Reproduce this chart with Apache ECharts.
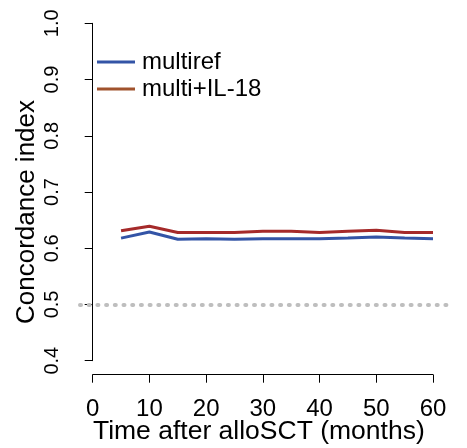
<!DOCTYPE html>
<html>
<head>
<meta charset="utf-8">
<script src="https://cdn.jsdelivr.net/npm/echarts@6/dist/echarts.min.js"></script>
<style>
  html, body { margin: 0; padding: 0; background: #fff; }
  #chart { width: 467px; height: 448px; }
</style>
</head>
<body>
<div id="chart"></div>
<script>
  // months after alloSCT
  var months = [5, 10, 15, 20, 25, 30, 35, 40, 45, 50, 55, 60];
  var multiref = [0.618, 0.629, 0.616, 0.617, 0.616, 0.617, 0.617, 0.617, 0.618, 0.620, 0.618, 0.617];
  var multiIL18 = [0.631, 0.639, 0.628, 0.628, 0.628, 0.630, 0.630, 0.628, 0.630, 0.632, 0.628, 0.628];
  var xTicks = [0, 10, 20, 30, 40, 50, 60];
  var yTicks = [0.4, 0.5, 0.6, 0.7, 0.8, 0.9, 1.0];
  var refLevel = 0.5;

  var font = '"Liberation Sans", Arial, Helvetica, sans-serif';
  var axisLine = { show: true, lineStyle: { color: '#000', width: 1 } };
  var axisTick = { show: true, inside: false, length: 8, lineStyle: { color: '#000', width: 1 } };

  function pairs(xs, ys) {
    return xs.map(function (x, i) { return [x, ys[i]]; });
  }

  var chart = echarts.init(document.getElementById('chart'), null, { renderer: 'canvas' });

  chart.setOption({
    animation: false,
    backgroundColor: '#fff',
    textStyle: { fontFamily: font },
    grid: [
      { left: 92.7, right: 34, top: 23.3, bottom: 87.3, containLabel: false, outerBoundsMode: 'none' },
      { left: 80, right: 20.4, top: 23.3, bottom: 87.3, containLabel: false, outerBoundsMode: 'none' }
    ],
    legend: {
      orient: 'vertical',
      left: 97,
      top: 50,
      padding: 0,
      itemWidth: 38,
      itemHeight: 3,
      itemGap: 3,
      icon: 'rect',
      textStyle: { fontFamily: font, fontSize: 24, color: '#000', padding: [0, 0, 0, 2] },
      data: [
        { name: 'multiref', itemStyle: { color: '#3354a6' } },
        { name: 'multi+IL-18', itemStyle: { color: '#a0522d' } }
      ]
    },
    xAxis: [
      {
        gridIndex: 0,
        type: 'value',
        min: xTicks[0],
        max: xTicks[xTicks.length - 1],
        interval: 10,
        offset: 14,
        splitLine: { show: false },
        axisLine: axisLine,
        axisTick: axisTick,
        axisLabel: { fontFamily: font, fontSize: 24, color: '#000', margin: 23 },
        name: 'Time after alloSCT (months)',
        nameLocation: 'middle',
        nameGap: 43,
        nameMoveOverlap: false,
        nameTextStyle: { fontFamily: font, fontSize: 26.5, color: '#000', padding: [0, 8, 0, 0] }
      },
      { gridIndex: 1, type: 'value', min: 0, max: 1, show: false }
    ],
    yAxis: [
      {
        gridIndex: 0,
        type: 'value',
        min: yTicks[0],
        max: yTicks[yTicks.length - 1],
        interval: 0.1,
        offset: 12.7,
        splitLine: { show: false },
        axisLine: axisLine,
        axisTick: axisTick,
        axisLabel: {
          fontFamily: font, fontSize: 20, color: '#000', margin: 18, rotate: 90,
          align: 'center', verticalAlign: 'bottom',
          formatter: function (v) { return v.toFixed(1); }
        },
        name: 'Concordance index',
        nameLocation: 'middle',
        nameRotate: 90,
        nameGap: 40,
        nameMoveOverlap: false,
        nameTextStyle: { fontFamily: font, fontSize: 26, color: '#000', padding: [0, 40, 0, 0] }
      },
      { gridIndex: 1, type: 'value', min: yTicks[0], max: yTicks[yTicks.length - 1], show: false }
    ],
    series: [
      {
        name: 'reference',
        type: 'line',
        xAxisIndex: 1,
        yAxisIndex: 1,
        data: [],
        markLine: {
          silent: true,
          symbol: ['none', 'none'],
          label: { show: false },
          lineStyle: { color: '#bebebe', width: 4, type: [1, 7.7], cap: 'round' },
          data: [{ yAxis: refLevel }]
        }
      },
      {
        name: 'multiref',
        type: 'line',
        data: pairs(months, multiref),
        showSymbol: false,
        symbol: 'none',
        lineStyle: { color: '#3354a6', width: 3 },
        itemStyle: { color: '#3354a6' }
      },
      {
        name: 'multi+IL-18',
        type: 'line',
        data: pairs(months, multiIL18),
        showSymbol: false,
        symbol: 'none',
        lineStyle: { color: '#a52a2a', width: 3 },
        itemStyle: { color: '#a52a2a' }
      }
    ]
  });
</script>
</body>
</html>
